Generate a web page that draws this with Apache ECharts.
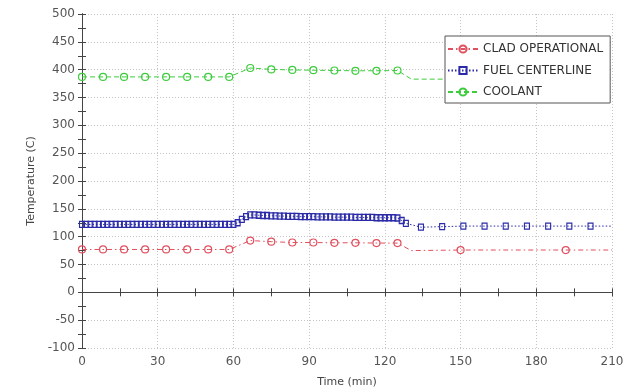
<!DOCTYPE html>
<html>
<head>
<meta charset="utf-8">
<script src="https://cdn.jsdelivr.net/npm/echarts@6/dist/echarts.min.js"></script>
<style>
  html, body { margin: 0; padding: 0; background: #fff; }
  #chart { width: 633px; height: 390px; }
</style>
</head>
<body>
<div id="chart"></div>
<script>
// Axis ticks
const xTicks = [0, 30, 60, 90, 120, 150, 180, 210];
const yTicks = [-100, -50, 0, 50, 100, 150, 200, 250, 300, 350, 400, 450, 500];

// CLAD OPERATIONAL: readings drawn with a marker (time in min, temperature in C)
const cladTime = [0, 8.33, 16.67, 25, 33.33, 41.67, 50, 58.33, 66.67, 75, 83.33, 91.67, 100, 108.33, 116.67, 125, 150, 191.67];
const cladTemp = [77, 77, 77, 77, 77, 77, 77, 77, 93, 91, 89.5, 89.5, 89, 89, 88.5, 88.5, 76, 76];
// curve vertices without a marker
const cladLineTime = [130.5, 210];
const cladLineTemp = [75, 76];

// FUEL CENTERLINE
const fuelTime = [0, 1.67, 3.33, 5, 6.67, 8.33, 10, 11.67, 13.33, 15, 16.67, 18.33, 20, 21.67, 23.33, 25, 26.67, 28.33, 30,
  31.67, 33.33, 35, 36.67, 38.33, 40, 41.67, 43.33, 45, 46.67, 48.33, 50, 51.67, 53.33, 55, 56.67, 58.33, 60,
  61.67, 63.33, 65, 66.67, 68.33, 70, 71.67, 73.33, 75, 76.67, 78.33, 80, 81.67, 83.33, 85, 86.67, 88.33, 90,
  91.67, 93.33, 95, 96.67, 98.33, 100, 101.67, 103.33, 105, 106.67, 108.33, 110, 111.67, 113.33, 115, 116.67,
  118.33, 120, 121.67, 123.33, 125, 126.67, 128.33,
  134.3, 142.7, 151.1, 159.5, 167.9, 176.3, 184.7, 193.1, 201.5];
const fuelTemp = [122, 122, 122, 122, 122, 122, 122, 122, 122, 122, 122, 122, 122, 122, 122, 122, 122, 122, 122,
  122, 122, 122, 122, 122, 122, 122, 122, 122, 122, 122, 122, 122, 122, 122, 122, 122, 122,
  125, 131, 136, 139, 139, 138.5, 138, 138, 137.5, 137.5, 137, 137, 136.5, 136.5, 136.5, 136, 136, 136,
  136, 135.5, 135.5, 135.5, 135.5, 135, 135, 135, 135, 135, 134.5, 134.5, 134.5, 134.5, 134.5, 134,
  134, 134, 134, 134, 133.5, 129, 124,
  117, 118, 119, 119, 119, 119, 119, 119, 119];
const fuelLineTime = [210];
const fuelLineTemp = [119];

// COOLANT
const coolTime = [0, 8.33, 16.67, 25, 33.33, 41.67, 50, 58.33, 66.67, 75, 83.33, 91.67, 100, 108.33, 116.67, 125];
const coolTemp = [387, 387, 387, 387, 387, 387, 387, 387, 403, 400.5, 399.5, 399, 398.5, 398, 398, 398.5];
const coolLineTime = [130.5, 210];
const coolLineTemp = [383, 383];

// merge marked readings and plain vertices into one time-ordered line
function buildLine(t, v, lt, lv) {
  const pts = t.map((x, i) => ({ value: [x, v[i]] }));
  lt.forEach((x, i) => pts.push({ value: [x, lv[i]], symbol: 'none' }));
  return pts.sort((a, b) => a.value[0] - b.value[0]);
}

const FONT = 'DejaVu Sans';
const AXIS_COLOR = '#444';
const chart = echarts.init(document.getElementById('chart'), null, { renderer: 'canvas' });

const xMin = xTicks[0], xMax = xTicks[xTicks.length - 1];
const yMin = yTicks[0], yMax = yTicks[yTicks.length - 1];
const tick = { show: true, inside: true, length: 4, lineStyle: { color: AXIS_COLOR, width: 1 } };
const dotted = { show: true, lineStyle: { color: '#c4c4c4', type: [1, 2], width: 1 } };

// frame-only axes carrying the finer inward ticks (half the label step)
function frameX(position) {
  return {
    type: 'value', position, min: xMin, max: xMax, interval: 15,
    axisLine: { show: true, lineStyle: { color: AXIS_COLOR, width: 1 } },
    axisTick: tick, axisLabel: { show: false }, splitLine: { show: false }
  };
}
function frameY(position) {
  return {
    type: 'value', position, min: yMin, max: yMax, interval: 25,
    axisLine: { show: true, lineStyle: { color: AXIS_COLOR, width: 1 } },
    axisTick: tick, axisLabel: { show: false }, splitLine: { show: false }
  };
}

function seriesDef(name, color, dash, symbol, size, data) {
  return {
    name, type: 'line', xAxisIndex: 0, yAxisIndex: 0,
    data, symbol, symbolSize: size, showAllSymbol: true,
    animation: false, z: 3,
    lineStyle: { color, width: 1, type: dash },
    itemStyle: { color: 'rgba(255,255,255,0)', borderColor: color, borderWidth: 1.2 },
    emphasis: { disabled: true }
  };
}

chart.setOption({
  backgroundColor: '#fff',
  animation: false,
  textStyle: { fontFamily: FONT },
  grid: { left: 82, right: 21, top: 14, bottom: 42, outerBoundsMode: 'none', containLabel: false },
  xAxis: [{
    type: 'value', min: xMin, max: xMax, interval: 30,
    name: 'Time (min)', nameLocation: 'middle', nameGap: 29,
    nameTextStyle: { fontFamily: FONT, fontSize: 11, color: '#444' },
    axisLine: { show: true, lineStyle: { color: AXIS_COLOR, width: 1 } },
    axisTick: { show: false },
    axisLabel: { fontFamily: FONT, fontSize: 12, color: '#555', margin: 8 },
    splitLine: dotted
  }, frameX('bottom'), frameX('top')],
  yAxis: [{
    type: 'value', min: yMin, max: yMax, interval: 50,
    name: 'Temperature (C)', nameLocation: 'middle', nameGap: 44, nameRotate: 90,
    nameTextStyle: { fontFamily: FONT, fontSize: 11, color: '#444' },
    axisLine: { show: true, lineStyle: { color: AXIS_COLOR, width: 1 } },
    axisTick: { show: false },
    axisLabel: { fontFamily: FONT, fontSize: 12, color: '#555', margin: 7 },
    splitLine: dotted
  }, frameY('left'), frameY('right')],
  legend: {
    left: 445, top: 36, orient: 'vertical',
    backgroundColor: '#fff', borderColor: '#555', borderWidth: 1,
    padding: [7, 7, 5, 2], itemGap: 9.5, itemWidth: 30, itemHeight: 9,
    textStyle: { fontFamily: FONT, fontSize: 12, color: '#333' },
    data: ['CLAD OPERATIONAL', 'FUEL CENTERLINE', 'COOLANT']
  },
  series: [
    seriesDef('CLAD OPERATIONAL', '#e0505e', [5, 3, 1.5, 3], 'circle', 7,
      buildLine(cladTime, cladTemp, cladLineTime, cladLineTemp)),
    seriesDef('FUEL CENTERLINE', '#2a2aa8', [1.5, 2], 'rect', [5, 6],
      buildLine(fuelTime, fuelTemp, fuelLineTime, fuelLineTemp)),
    seriesDef('COOLANT', '#3ccc3c', [5, 3], 'circle', 7,
      buildLine(coolTime, coolTemp, coolLineTime, coolLineTemp))
  ]
});
</script>
</body>
</html>
